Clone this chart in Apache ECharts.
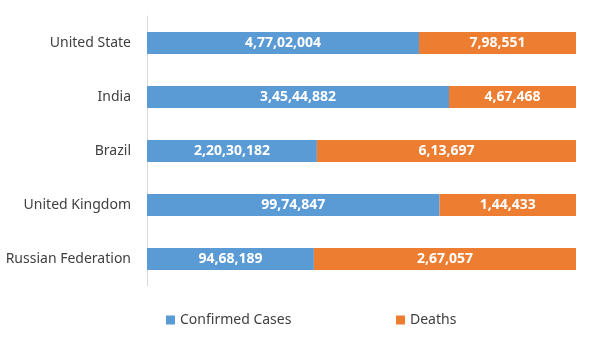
<!DOCTYPE html>
<html>
<head>
<meta charset="utf-8">
<script src="https://cdn.jsdelivr.net/npm/echarts@6/dist/echarts.min.js"></script>
<style>
  html, body { margin: 0; padding: 0; background: #fff; }
  #chart { width: 604px; height: 350px; }
</style>
</head>
<body>
<div id="chart"></div>
<script>
// countries, top to bottom
var countries = ['United State', 'India', 'Brazil', 'United Kingdom', 'Russian Federation'];
// share of each bar (percent)
var confirmedShare = [63.4, 70.4, 39.6, 68.2, 38.9];
var deathsShare = [36.6, 29.6, 60.4, 31.8, 61.1];
// data labels as printed on the bars
var confirmedLabels = ['4,77,02,004', '3,45,44,882', '2,20,30,182', '99,74,847', '94,68,189'];
var deathsLabels = ['7,98,551', '4,67,468', '6,13,697', '1,44,433', '2,67,057'];

var font = 'Noto Sans';
var chart = echarts.init(document.getElementById('chart'));

chart.setOption({
    animation: false,
    textStyle: { fontFamily: font },
    grid: { left: 147, right: 28, top: 16, height: 270 },
    legend: [
        {
            data: ['Confirmed Cases'],
            left: 161, top: 308,
            itemWidth: 9, itemHeight: 9, icon: 'rect',
            textStyle: { fontSize: 14, color: '#404040', fontFamily: font }
        },
        {
            data: ['Deaths'],
            left: 391, top: 308,
            itemWidth: 9, itemHeight: 9, icon: 'rect',
            textStyle: { fontSize: 14, color: '#404040', fontFamily: font }
        }
    ],
    xAxis: {
        type: 'value',
        min: 0, max: 100,
        show: false
    },
    yAxis: {
        type: 'category',
        data: countries,
        inverse: true,
        axisLine: { show: true, lineStyle: { color: '#d9d9d9' } },
        axisTick: { show: false },
        axisLabel: { fontSize: 14, color: '#404040', margin: 16, fontFamily: font }
    },
    series: [
        {
            name: 'Confirmed Cases',
            type: 'bar',
            stack: 'total',
            barWidth: 22,
            itemStyle: { color: '#5b9bd5' },
            data: confirmedShare,
            label: {
                show: true,
                position: 'inside',
                color: '#fff',
                fontWeight: 'bold',
                fontSize: 14,
                fontFamily: font,
                formatter: function (p) { return confirmedLabels[p.dataIndex]; }
            }
        },
        {
            name: 'Deaths',
            type: 'bar',
            stack: 'total',
            barWidth: 22,
            itemStyle: { color: '#ed7d31' },
            data: deathsShare,
            label: {
                show: true,
                position: 'inside',
                color: '#fff',
                fontWeight: 'bold',
                fontSize: 14,
                fontFamily: font,
                formatter: function (p) { return deathsLabels[p.dataIndex]; }
            }
        }
    ]
});
</script>
</body>
</html>
